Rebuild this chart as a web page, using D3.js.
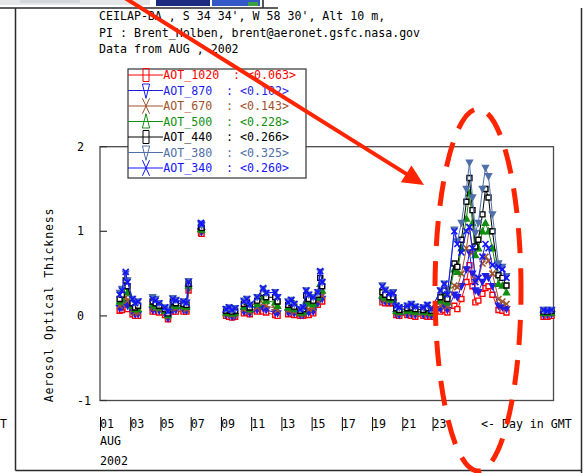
<!DOCTYPE html>
<html><head><meta charset="utf-8">
<script src="https://cdn.jsdelivr.net/npm/d3@7"></script>
<style>body{margin:0;background:#fff}svg{display:block}text{font-family:"DejaVu Sans Mono",monospace;font-size:11.6px}</style>
</head><body>
<svg id="c" width="586" height="473"></svg>
<script>
const headerLines = ["CEILAP-BA , S 34 34', W 58 30', Alt 10 m,",
  "PI : Brent_Holben, brent@aeronet.gsfc.nasa.gov",
  "Data from AUG , 2002"];
const seriesNames = ["AOT_1020","AOT_870","AOT_670","AOT_500","AOT_440","AOT_380","AOT_340"];
const seriesMeans = ["0.063","0.102","0.143","0.228","0.266","0.325","0.260"];
const seriesColors = ["#ff0000","#1e1ee6","#a0522d","#0f8f0f","#000000","#4f6fa8","#1414ff"];
const seriesMarkers = ["square","triDown","cross","triUp","square","triDown","cross"];
const xTickDays = [1,3,5,7,9,11,13,15,17,19,21,23];
const yTicks = [-1,0,1,2];

const times = [2.30,2.45,2.70,2.82,3.15,3.32,3.52,
  4.48,4.68,4.91,5.30,5.50,5.82,6.02,6.52,6.72,6.86,
  7.68,7.72,
  9.34,9.54,9.74,9.94,
  10.52,10.72,10.91,11.40,11.79,11.99,12.59,12.75,
  13.45,13.65,13.85,14.25,14.44,14.64,14.81,15.11,15.41,15.57,15.70,
  19.68,19.87,20.14,20.40,20.60,20.80,21.33,21.60,21.86,22.39,22.66,22.92,23.52,23.78,23.98,
  24.44,24.64,24.91,25.24,25.44,25.64,25.83,26.03,26.30,26.50,26.70,26.96,27.36,27.62,27.89,
  30.34,30.60,30.87];
const segment = [1,1,1,1,1,1,1, 2,2,2,2,2,2,2,2,2,2, 3,3, 4,4,4,4, 5,5,5,5,5,5,5,5,
  6,6,6,6,6,6,6,6,6,6,6,
  7,7,7,7,7,7,7,7,7,7,7,7,7,7,7, 7,7,7,7,7,7,7,7,7,7,7,7,7,7,7, 8,8,8];

const aot340 = [.25,.3,.52,.4,.2,.15,.17, .2,.18,.15,.1,.05,.2,.18,.17,.15,.4, 1.1,1.08, .08,.1,.07,.09,
  .17,.2,.13,.22,.33,.27,.28,.22, .16,.19,.14,.08,.1,.3,.25,.22,.28,.53,.4,
  .35,.3,.26,.27,.12,.1,.12,.14,.11,.1,.13,.08,.3,.38,.25, 1.0,.85,.75,1.0,1.05,.8,.4,.45,.7,.85,.8,.6,.58,.55,.45, .07,.06,.07];
const aot380 = [.27,.32,.5,.42,.2,.16,.17, .22,.2,.15,.1,.06,.21,.19,.17,.16,.41, 1.09,1.07, .08,.1,.07,.09,
  .18,.2,.13,.22,.32,.27,.28,.22, .17,.19,.14,.08,.1,.3,.25,.22,.28,.52,.4,
  .36,.31,.27,.28,.12,.1,.12,.14,.11,.1,.13,.08,.3,.38,.26, 1.02,.88,1.1,1.5,1.81,1.4,.98,1.1,1.5,1.75,1.65,1.2,.62,.58,.47, .07,.07,.07];
const aot440 = [.2,.25,.42,.35,.15,.1,.12, .17,.15,.12,.08,.03,.17,.15,.14,.13,.38, 1.05,1.04, .06,.07,.05,.06,
  .14,.16,.1,.18,.27,.22,.22,.17, .13,.15,.11,.06,.08,.24,.2,.18,.25,.45,.35,
  .28,.25,.22,.22,.09,.07,.09,.1,.08,.07,.09,.06,.22,.3,.2, .62,.58,.9,1.35,1.63,1.25,.82,.9,1.2,1.5,1.4,1.0,.48,.45,.36, .05,.05,.06];
const aot500 = [.17,.2,.35,.28,.12,.08,.08, .14,.12,.1,.06,.01,.14,.12,.12,.11,.36, 1.03,1.02, .04,.05,.03,.04,
  .11,.13,.08,.14,.22,.18,.16,.12, .1,.12,.08,.04,.05,.18,.15,.14,.22,.38,.3,
  .24,.22,.2,.19,.06,.05,.06,.07,.05,.05,.06,.04,.18,.24,.16, .55,.52,.8,1.15,1.45,1.1,.72,.8,1.0,1.1,1.0,.8,.38,.36,.28, .04,.04,.04];
const aot670 = [.12,.14,.22,.18,.07,.04,.04, .1,.09,.08,.04,-.01,.1,.09,.09,.08,.34, 1.01,1.0, .02,.03,.01,.02,
  .08,.09,.05,.1,.15,.12,.09,.07, .07,.08,.05,.02,.03,.1,.08,.09,.18,.28,.24,
  .2,.19,.18,.17,.04,.03,.04,.04,.03,.03,.03,.02,.12,.17,.11, .36,.34,.5,.8,1.05,.75,.43,.45,.62,.7,.65,.5,.2,.17,.14, .02,.02,.03];
const aot870 = [.09,.1,.15,.12,.04,.02,.02, .07,.07,.06,.02,-.03,.07,.07,.07,.06,.32, 1.0,.99, .01,.01,-.01,0,
  .05,.06,.03,.07,.09,.07,.04,.03, .04,.05,.03,.01,.01,.05,.04,.05,.15,.22,.2,
  .18,.17,.16,.16,.02,.01,.02,.02,.01,.01,.01,0,.08,.11,.07, .25,.22,.35,.55,.75,.5,.3,.28,.4,.47,.45,.35,.12,.1,.08, .01,.01,.02];
const aot1020 = [.06,.07,.1,.08,.02,0,0, .05,.05,.04,.01,-.04,.05,.05,.05,.05,.3, .98,.97, 0,-.01,-.02,-.01,
  .03,.04,.02,.05,.05,.04,.01,0, .02,.03,.01,0,0,.02,.01,.03,.13,.18,.17,
  .16,.15,.15,.15,.01,0,.01,0,-.01,0,-.01,-.01,.05,.07,.04, .12,.08,.2,.4,.6,.35,.16,.18,.26,.33,.35,.25,.07,.06,.04, -.01,-.01,0];
const seriesValues = [aot1020, aot870, aot670, aot500, aot440, aot380, aot340];

const svg = d3.select("#c");
const x = d3.scaleLinear().domain([1,31]).range([100,553.5]);
const y = d3.scaleLinear().domain([-1,2]).range([400.5,146.7]);

// top strip remnants of a picture above
const strip = svg.append("g");
strip.append("rect").attr("x",0).attr("y",0).attr("width",150).attr("height",5).attr("fill","#e4e6e8");
strip.append("rect").attr("x",20).attr("y",0).attr("width",60).attr("height",3).attr("fill","#d3d7dc");
strip.append("rect").attr("x",156).attr("y",0).attr("width",54).attr("height",6).attr("fill","#1c2a80");
strip.append("rect").attr("x",212).attr("y",0).attr("width",48).attr("height",6).attr("fill","#3458c8");
strip.append("rect").attr("x",248).attr("y",2).attr("width",10).attr("height",4).attr("fill","#3aa040");
strip.append("line").attr("x1",263).attr("x2",263).attr("y1",0).attr("y2",8).attr("stroke","#222").attr("stroke-width",1.5);

// outer frame
const fr = svg.append("g").attr("stroke","#2a2a2a").attr("stroke-width",1.5).attr("fill","none");
fr.append("line").attr("x1",0).attr("x2",278).attr("y1",8).attr("y2",8);
fr.append("line").attr("x1",15.5).attr("x2",15.5).attr("y1",8).attr("y2",470.5);
fr.append("line").attr("x1",15.5).attr("x2",582).attr("y1",470.5).attr("y2",470.5);
fr.append("line").attr("x1",581.5).attr("x2",581.5).attr("y1",8).attr("y2",473);

// header
svg.append("g").selectAll("text").data(headerLines).join("text")
  .attr("x",99).attr("y",(d,i)=>[20,37,53][i]).attr("fill","#000").text(d=>d);

// plot box
svg.append("rect").attr("x",x(1)).attr("y",y(2)).attr("width",x(31)-x(1)).attr("height",y(-1)-y(2))
  .attr("fill","none").attr("stroke","#4a4a4a").attr("stroke-width",1.3);

// y ticks
const ya = svg.append("g");
ya.selectAll("line").data(yTicks).join("line").attr("x1",x(1)).attr("x2",x(1)+7)
  .attr("y1",d=>y(d)).attr("y2",d=>y(d)).attr("stroke","#333").attr("stroke-width",1.2);
ya.selectAll("text").data(yTicks).join("text").attr("x",77).attr("y",d=>y(d)+4).text(d=>d<0?"-"+Math.abs(d):d);

// y title
svg.append("text").attr("transform","translate(53,305) rotate(-90)").attr("text-anchor","middle")
  .attr("letter-spacing","0.8px").text("Aerosol Optical Thickness");

// x ticks
const xa = svg.append("g");
xa.selectAll("line").data(xTickDays).join("line").attr("x1",d=>x(d)+0.5).attr("x2",d=>x(d)+0.5)
  .attr("y1",417).attr("y2",431).attr("stroke","#000").attr("stroke-width",1);
xa.selectAll("text").data(xTickDays).join("text").attr("x",d=>x(d)).attr("y",428)
  .text(d=>d3.format("02d")(d));
svg.append("text").attr("x",481).attr("y",428).text("<- Day in GMT");
svg.append("text").attr("x",100).attr("y",445).text("AUG");
svg.append("text").attr("x",100).attr("y",465).text("2002");
svg.append("text").attr("x",0).attr("y",428).text("T");

// marker paths
const markerPath = {
  square: "M-2.5,-2.5h5v5h-5z",
  triDown: "M-3,-2.5L3,-2.5L0,3Z",
  triUp: "M-3,2.5L3,2.5L0,-3Z",
  cross: "M-3,-3L3,3M3,-3L-3,3"
};

// data
const plot = svg.append("g");
const line = d3.line().x(d=>x(d.t)).y(d=>y(d.v));
seriesNames.forEach((name, si) => {
  const pts = times.map((t,i)=>({t, v: seriesValues[si][i], s: segment[i]}));
  const groups = d3.groups(pts, d=>d.s);
  const g = plot.append("g");
  g.selectAll("path.l").data(groups).join("path").attr("class","l")
    .attr("d", d=>line(d[1])).attr("fill","none").attr("stroke",seriesColors[si]).attr("stroke-width",1);
  const mk = seriesMarkers[si];
  g.selectAll("path.m").data(pts).join("path").attr("class","m")
    .attr("transform", d=>`translate(${x(d.t)},${y(d.v)})`)
    .attr("d", markerPath[mk])
    .attr("fill", mk==="cross" ? "none" : (mk==="square" ? "#fff" : seriesColors[si]))
    .attr("stroke", seriesColors[si]).attr("stroke-width", mk==="cross" ? 1.6 : 1.4);
});

// legend
const lg = svg.append("g");
lg.append("rect").attr("x",128).attr("y",69).attr("width",178).attr("height",109)
  .attr("fill","#fff").attr("stroke","#333").attr("stroke-width",1.2);
const rowY = i => 75 + i*15.5;
seriesNames.forEach((name, si) => {
  const ry = rowY(si);
  lg.append("line").attr("x1",128).attr("x2",163).attr("y1",ry).attr("y2",ry)
    .attr("stroke",seriesColors[si]).attr("stroke-width",1);
  lg.append("path").attr("transform",`translate(146,${ry}) scale(1.2,2.6)`)
    .attr("d", markerPath[seriesMarkers[si]]).attr("fill","none")
    .attr("stroke",seriesColors[si]).attr("stroke-width",1).attr("vector-effect","non-scaling-stroke");
  lg.append("text").attr("x",163.3).attr("y",ry+4).attr("fill",seriesColors[si])
    .style("white-space","pre")
    .text(name + "  : " + "<" + seriesMeans[si] + ">");
});

// annotations: red arrow and dashed ellipse
const red = "#ff2400";
const tip = [424,185], start = [125,-2];
const ang = Math.atan2(tip[1]-start[1], tip[0]-start[0]);
const hl = 21, hw = 10;
const base = [tip[0]-hl*Math.cos(ang), tip[1]-hl*Math.sin(ang)];
svg.append("line").attr("x1",start[0]).attr("y1",start[1]).attr("x2",base[0]+2*Math.cos(ang)).attr("y2",base[1]+2*Math.sin(ang))
  .attr("stroke",red).attr("stroke-width",4);
svg.append("path").attr("d",`M${tip[0]},${tip[1]}L${base[0]+hw*Math.sin(ang)},${base[1]-hw*Math.cos(ang)}L${base[0]-hw*Math.sin(ang)},${base[1]+hw*Math.cos(ang)}Z`)
  .attr("fill",red);
svg.append("ellipse").attr("cx",478).attr("cy",290).attr("rx",43).attr("ry",181)
  .attr("fill","none").attr("stroke",red).attr("stroke-width",5).attr("stroke-dasharray","25 15").attr("stroke-dashoffset",10);
</script>
</body></html>
